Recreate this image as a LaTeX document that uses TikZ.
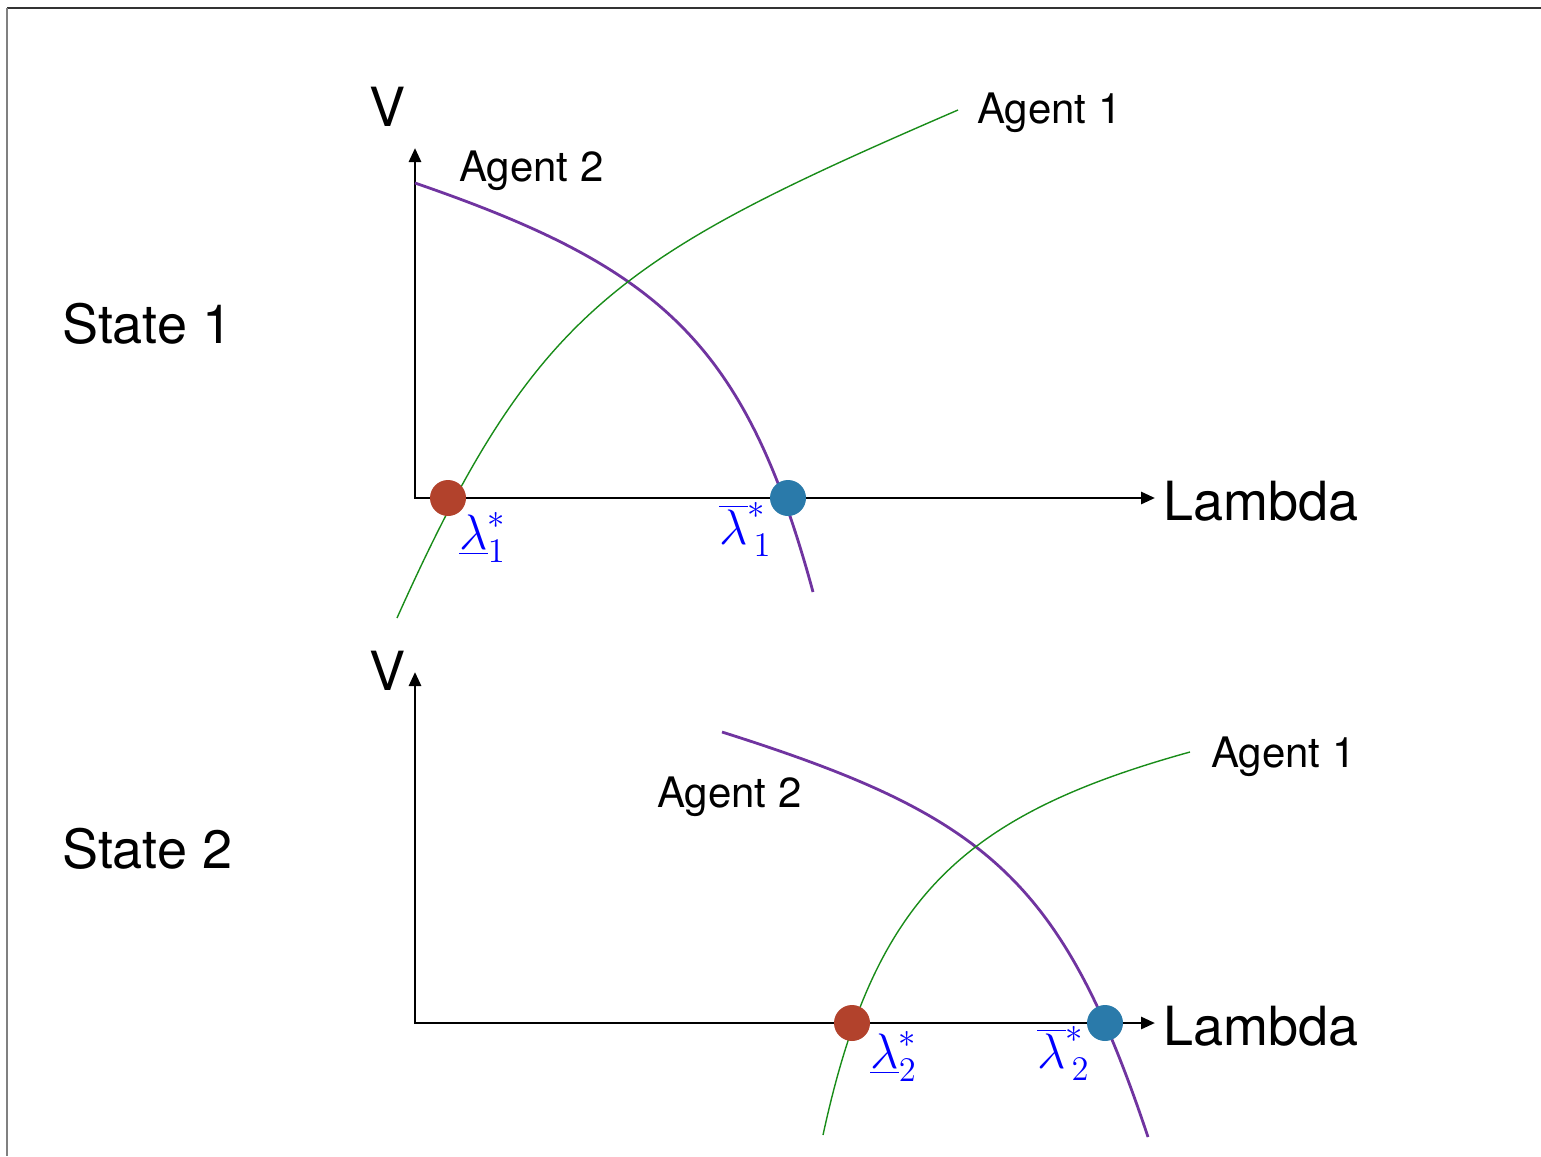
\documentclass[tikz,border=0pt]{standalone}
\usepackage{fontspec}
\setmainfont{TeX Gyre Heros}
\usetikzlibrary{arrows.meta}

\definecolor{agentone}{RGB}{25,140,25}
\definecolor{agenttwo}{RGB}{112,52,160}
\definecolor{lowdot}{RGB}{178,66,44}
\definecolor{highdot}{RGB}{42,122,170}

\begin{document}
\begin{tikzpicture}[x=1pt, y=-1pt,
    axis/.style={line width=2.8pt, {Triangle[length=14pt,width=12pt]}-{Triangle[length=14pt,width=12pt]}},
    bigtext/.style={inner sep=0pt, anchor=base west, font=\fontsize{54}{60}\selectfont},
    agenttext/.style={inner sep=0pt, anchor=base west, font=\fontsize{42}{48}\selectfont},
    eqtext/.style={inner sep=0pt, anchor=north west, text=blue, font=\huge, scale=2.4},
    eqdot/.style={circle, inner sep=0pt, minimum width=35pt, minimum height=36pt}]

  \useasboundingbox (0,0) rectangle (1541,1156);

  % Frame of the slide
  \draw[line width=2pt, black!80] (7,8) -- (1541,8);
  \draw[line width=2pt, black!50] (7,8) -- (7,1156);

  % Axes of the two states
  \coordinate (o1) at (415,498);
  \coordinate (v1) at (415,148);
  \coordinate (l1) at (1155,498);
  \coordinate (o2) at (415,1023);
  \coordinate (v2) at (415,672);
  \coordinate (l2) at (1155,1023);

  \draw[axis] (v1) -- (o1) -- (l1);
  \draw[axis] (v2) -- (o2) -- (l2);

  % State 1 curves
  \draw[agenttwo, line width=2.8pt] (415,183) .. controls (659,267) and (745,341) .. (813,592);
  \draw[agentone, line width=1.4pt] (397,618) .. controls (536,308) and (618,257) .. (958,110);

  % State 2 curves
  \draw[agenttwo, line width=2.8pt] (722,732) .. controls (984,815) and (1061,876) .. (1148,1137);
  \draw[agentone, line width=1.4pt] (823,1135) .. controls (874,900) and (959,816) .. (1190,752);

  % Equilibrium points
  \node[eqdot, fill=lowdot]  (low1)  at (448,498)  {};
  \node[eqdot, fill=highdot] (high1) at (788,498)  {};
  \node[eqdot, fill=lowdot]  (low2)  at (852,1023) {};
  \node[eqdot, fill=highdot] (high2) at (1105,1023) {};

  \node[eqtext] (lowlbl1)  at (459,512)  {$\underline{\lambda}^{*}_{1}$};
  \node[eqtext] (highlbl1) at (719,502)  {$\overline{\lambda}^{*}_{\,1}$};
  \node[eqtext] (lowlbl2)  at (870,1031) {$\underline{\lambda}^{*}_{2}$};
  \node[eqtext] (highlbl2) at (1037,1026) {$\overline{\lambda}^{*}_{\,2}$};

  % Labels
  \node[bigtext] (state1) at (62,343)  {State 1};
  \node[bigtext] (state2) at (62,868)  {State 2};
  \node[bigtext] (vlbl1)  at (369,126) {V};
  \node[bigtext] (vlbl2)  at (369,690) {V};
  \node[bigtext] (lam1)   at (1163,520)  {Lambda};
  \node[bigtext] (lam2)   at (1163,1045) {Lambda};

  \node[agenttext] (agtwo1) at (459,181)  {Agent 2};
  \node[agenttext] (agone1) at (977,123)  {Agent 1};
  \node[agenttext] (agtwo2) at (657,807)  {Agent 2};
  \node[agenttext] (agone2) at (1211,767) {Agent 1};

\end{tikzpicture}
\end{document}
